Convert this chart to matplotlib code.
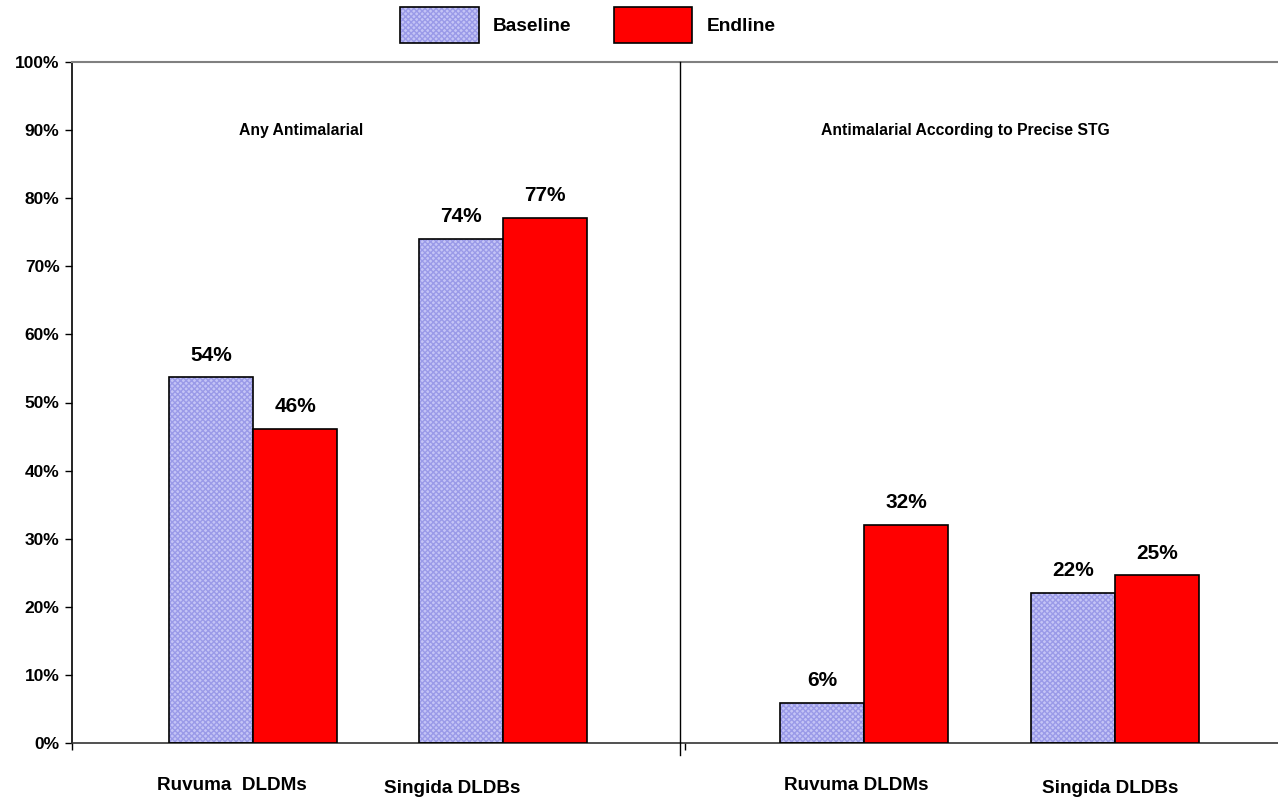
import matplotlib
matplotlib.use("Agg")
import matplotlib.pyplot as plt
import matplotlib.transforms as mtransforms
from matplotlib.patches import Patch
from matplotlib.legend_handler import HandlerTuple

plt.rcParams['font.family'] = ['Liberation Sans', 'DejaVu Sans']
plt.rcParams['font.weight'] = 'bold'

# ---- data ----
categories = ["Ruvuma  DLDMs", "Singida DLDBs", "Ruvuma DLDMs", "Singida DLDBs"]
panel_titles = ["Any Antimalarial", "Antimalarial According to Precise STG"]
baseline = [53.7, 74.0, 5.9, 22.0]
endline = [46.1, 77.1, 32.0, 24.6]
series_names = ["Baseline", "Endline"]
yticks = [0, 10, 20, 30, 40, 50, 60, 70, 80, 90, 100]
ytick_labels = [f"{t}%" for t in yticks]

# ---- layout ----
W, H, DPI = 1278, 799, 100
group_pos = [2.155, 5.131, 9.429, 12.417]
bar_w = 1.0
label_pos = [1.905, 4.524, 9.333, 12.357]
label_y = [0.0175, 0.0135, 0.0175, 0.0135]
divider_x = 7.238
title_x = [2.725, 10.63]

base_face = '#c4c4f6'
base_hatch = '#9a9ae8'
end_face = '#ff0000'

fig = plt.figure(figsize=(W / DPI, H / DPI), dpi=DPI)
ax = fig.add_axes([72 / W, (799 - 743) / H, (1278 - 72) / W, (743 - 62) / H])

bx = [g - bar_w / 2 for g in group_pos]
ex = [g + bar_w / 2 for g in group_pos]

# baseline: hatched fill layer then black outline layer
ax.bar(bx, baseline, width=bar_w, color=base_face, edgecolor=base_hatch,
       hatch='xxxxxx', linewidth=0, zorder=2)
ax.bar(bx, baseline, width=bar_w, fill=False, edgecolor='black', linewidth=1.2, zorder=3)
ax.bar(ex, endline, width=bar_w, color=end_face, edgecolor='black', linewidth=1.2, zorder=3)

for x, v in zip(bx, baseline):
    ax.annotate(f"{v:.0f}%", (x, v), xytext=(0, 16), textcoords='offset points',
                ha='center', va='center', fontsize=15, fontweight='bold')
for x, v in zip(ex, endline):
    ax.annotate(f"{v:.0f}%", (x, v), xytext=(0, 16), textcoords='offset points',
                ha='center', va='center', fontsize=15, fontweight='bold')

ax.set_xlim(0, 1206 / 84)
ax.set_ylim(0, 100)
ax.set_yticks(yticks)
ax.set_yticklabels(ytick_labels, fontsize=12.5, fontweight='bold')
ax.tick_params(axis='y', direction='out', length=5, width=1, pad=4)
ax.set_xticks([0, divider_x + 0.06])
ax.set_xticklabels(['', ''])
ax.tick_params(axis='x', direction='out', length=5, width=1)

ax.spines['right'].set_visible(False)
ax.spines['top'].set_color('#808080')
ax.spines['top'].set_linewidth(1.5)
ax.spines['left'].set_linewidth(1.2)
ax.spines['bottom'].set_linewidth(1.2)
ax.spines['bottom'].set_color('#333333')

# divider between the two panels
ax.plot([divider_x, divider_x], [100, -1.75], color='black', linewidth=1, clip_on=False, zorder=4)

# panel titles
for tx, t in zip(title_x, panel_titles):
    ax.text(tx, 90, t, ha='center', va='center', fontsize=11.3, fontweight='bold')

# category labels
trans = mtransforms.blended_transform_factory(ax.transData, fig.transFigure)
for lx, ly, c in zip(label_pos, label_y, categories):
    ax.text(lx, ly, c, transform=trans, ha='center', va='center', fontsize=13.6, fontweight='bold')

# legend
base_handle = (Patch(facecolor=base_face, edgecolor=base_hatch, hatch='xxxxxx', linewidth=0),
               Patch(fill=False, edgecolor='black', linewidth=1.2))
end_handle = Patch(facecolor=end_face, edgecolor='black', linewidth=1.2)
leg = fig.legend([base_handle, end_handle], series_names, loc='center',
                 bbox_to_anchor=(588 / W, 1 - 25 / H),
                 handler_map={tuple: HandlerTuple(ndivide=1, pad=0)},
                 ncol=2, frameon=False, fontsize=13.8, handlelength=4.1, handleheight=2.5,
                 columnspacing=2.2, handletextpad=0.75)
for t in leg.get_texts():
    t.set_fontweight('bold')

fig.savefig('out.png', dpi=DPI)
